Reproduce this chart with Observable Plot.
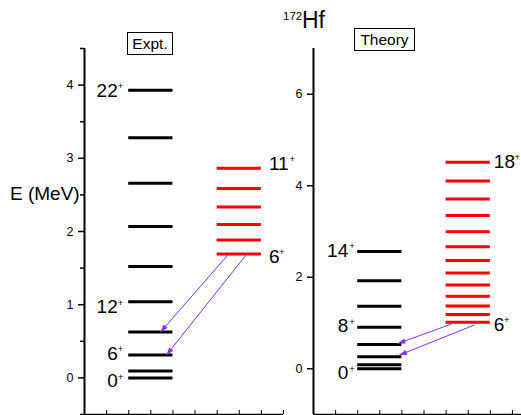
<!DOCTYPE html>
<html><head><meta charset="utf-8">
<script src="https://cdn.jsdelivr.net/npm/d3@7"></script>
<script src="https://cdn.jsdelivr.net/npm/@observablehq/plot@0.6"></script>
<style>
body{margin:0;background:#fff;font-family:"Liberation Sans",Arial,sans-serif;}
#wrap{position:relative;width:521px;height:415px;overflow:hidden;background:#fff;}
#wrap svg{position:absolute;top:0;}
.box{position:absolute;border:1px solid #000;box-sizing:border-box;text-align:center;font-size:15.5px;color:#000;background:#fff;}
.lbl{position:absolute;color:#000;white-space:nowrap;}
</style></head><body><div id="wrap">
<div class="box" style="left:127px;top:32px;width:46px;height:23px;line-height:21px;">Expt.</div>
<div class="box" style="left:354px;top:28px;width:61px;height:23px;line-height:21px;">Theory</div>
<div class="lbl" style="left:283px;top:10px;font-size:11.5px;">172</div>
<div class="lbl" style="left:302px;top:7px;font-size:23px;">Hf</div>
<div class="lbl" style="left:10px;top:183px;font-size:19px;">E (MeV)</div>
</div>
<script>
// ---- Data (energies in MeV) ----
const exptGround = [0, 0.095, 0.314, 0.628, 1.041, 1.522, 2.068, 2.660, 3.282, 3.929];
const exptSide = [1.692, 1.883, 2.095, 2.333, 2.587, 2.865];
const theoGround = [0, 0.087, 0.262, 0.530, 0.907, 1.364, 1.925, 2.563];
const theoSide = [1.016, 1.184, 1.373, 1.582, 1.831, 2.092, 2.367, 2.666, 2.993, 3.348, 3.712, 4.104, 4.512];

// spin labels (text, energy at label centre)
const exptGroundSpins = ["22", "12", "6", "0"];
const exptGroundSpinE = [3.922, 0.966, 0.331, -0.046];
const exptSideSpins = ["11", "6"];
const exptSideSpinE = [2.923, 1.659];
const theoGroundSpins = ["14", "8", "0"];
const theoGroundSpinE = [2.583, 0.928, -0.10];
const theoSideSpins = ["18", "6"];
const theoSideSpinE = [4.525, 0.966];

// transitions (column units, energies)
const exptArrowX1 = [6.52, 7.34], exptArrowY1 = [1.692, 1.692];
const exptArrowX2 = [3.44, 3.71], exptArrowY2 = [0.628, 0.314];
const theoArrowX1 = [6.23, 7.27], theoArrowY1 = [0.975, 0.955];
const theoArrowX2 = [3.82, 3.89], theoArrowY2 = [0.552, 0.300];

const leftYTicks = [0, 1, 2, 3, 4];
const leftYMinor = [-0.5, 0.5, 1.5, 2.5, 3.5, 4.5];
const rightYTicks = [0, 2, 4, 6];
const xTicks = [0, 1, 2, 3, 4, 5, 6, 7, 8, 9];

const RED = "#ff0000", PURPLE = "#8a2bff";
const FS = 19, PFS = 9.5;

function lab(spins, es) { return spins.map((s, i) => ({s, e: es[i]})); }
function arrows(x1, y1, x2, y2) { return x1.map((d, i) => ({x1: d, y1: y1[i], x2: x2[i], y2: y2[i]})); }

// draw filled triangular heads at arrow tips (pixel geometry from Plot's scaled channels)
function filledHeads(index, scales, values, dims, ctx, next) {
  const g = next(index, scales, values, dims, ctx);
  const {x1: X1, y1: Y1, x2: X2, y2: Y2} = values;
  const L = 7.5, W = 2.6;
  for (const i of index) {
    const dx = X2[i] - X1[i], dy = Y2[i] - Y1[i];
    const len = Math.hypot(dx, dy), ux = dx / len, uy = dy / len;
    const bx = X2[i] - ux * L, by = Y2[i] - uy * L;
    const pts = [[X2[i], Y2[i]], [bx - uy * W, by + ux * W], [bx + uy * W, by - ux * W]];
    const p = document.createElementNS("http://www.w3.org/2000/svg", "path");
    p.setAttribute("d", "M" + pts.map(q => q.join(",")).join("L") + "Z");
    p.setAttribute("fill", PURPLE);
    p.setAttribute("stroke", "none");
    g.appendChild(p);
  }
  return g;
}

function panel({width, mLeft, mRight, xDomain, yDomain, yTicks, yMinor, ground, side, gLab, sLab, arr, gDx, gPdx, sDx}) {
  const marks = [
    Plot.ruleX([0], {strokeWidth: 2}),
    Plot.ruleY([yDomain[0]], {strokeWidth: 1.5}),
    Plot.tickX(xTicks, {x: d => d, insetTop: 362, strokeWidth: 1}),
    Plot.axisY(yTicks, {tickSize: 6, tickPadding: 5, fontSize: 12.5, strokeWidth: 1.5, label: null, tickFormat: d3.format("d")})
  ];
  if (yMinor) marks.push(Plot.axisY(yMinor, {tickSize: 4, strokeWidth: 1.5, fill: "none", label: null}));
  marks.push(
    Plot.ruleY(ground, {y: d => d, x1: 2, x2: 4, stroke: "black", strokeWidth: 3}),
    Plot.ruleY(side, {y: d => d, x1: 6, x2: 8, stroke: RED, strokeWidth: 3}),
    Plot.text(gLab, {x: 2, y: "e", text: "s", textAnchor: "end", dx: gDx, fontSize: FS, lineAnchor: "middle", fill: "black"}),
    Plot.text(gLab, {x: 2, y: "e", text: () => "+", textAnchor: "end", dx: gPdx, dy: -4.5, fontSize: PFS, lineAnchor: "middle", fill: "black"}),
    Plot.text(sLab, {x: 8, y: "e", text: "s", textAnchor: "start", dx: sDx, fontSize: FS, lineAnchor: "middle", fill: "black"})
  );
  for (const d of sLab) {
    marks.push(Plot.text([d], {x: 8, y: "e", text: () => "+", textAnchor: "start",
      dx: sDx + d.s.length * 0.556 * FS - 0.5, dy: -4.5, fontSize: PFS, lineAnchor: "middle", fill: "black"}));
  }
  marks.push(Plot.arrow(arr, {x1: "x1", y1: "y1", x2: "x2", y2: "y2", stroke: PURPLE, strokeWidth: 1,
    headLength: 0, render: filledHeads}));
  return Plot.plot({
    width, height: 415,
    marginLeft: mLeft, marginRight: mRight, marginTop: 48, marginBottom: 1,
    x: {domain: xDomain, axis: null},
    y: {domain: yDomain},
    style: {fontFamily: "'Liberation Sans', Arial, sans-serif", background: "transparent", overflow: "visible", color: "black"},
    marks
  });
}

const left = panel({
  width: 300, mLeft: 84, mRight: 17, xDomain: [0, 9], yDomain: [-0.5, 4.5],
  yTicks: leftYTicks, yMinor: leftYMinor,
  ground: exptGround, side: exptSide,
  gLab: lab(exptGroundSpins, exptGroundSpinE), sLab: lab(exptSideSpins, exptSideSpinE),
  arr: arrows(exptArrowX1, exptArrowY1, exptArrowX2, exptArrowY2),
  gDx: -11, gPdx: -5.5, sDx: 7.5
});
left.style.left = "0px";

const right = panel({
  width: 281, mLeft: 73, mRight: 0, xDomain: [0, 9.41], yDomain: [-1, 7],
  yTicks: rightYTicks, yMinor: null,
  ground: theoGround, side: theoSide,
  gLab: lab(theoGroundSpins, theoGroundSpinE), sLab: lab(theoSideSpins, theoSideSpinE),
  arr: arrows(theoArrowX1, theoArrowY1, theoArrowX2, theoArrowY2),
  gDx: -9.5, gPdx: -3, sDx: 3.5
});
right.style.left = "240px";

const wrap = document.getElementById("wrap");
wrap.insertBefore(right, wrap.firstChild);
wrap.insertBefore(left, wrap.firstChild);
</script>
</body></html>
